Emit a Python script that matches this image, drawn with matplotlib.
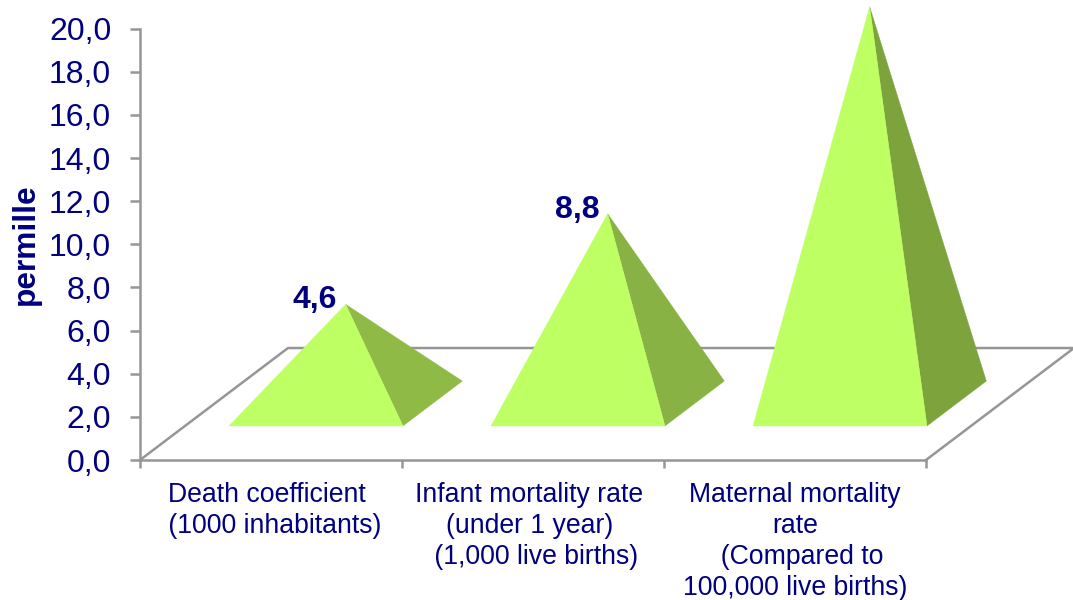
import matplotlib
matplotlib.use("Agg")
import matplotlib.pyplot as plt
from matplotlib.patches import Polygon

plt.rcParams['font.family'] = ['Liberation Sans', 'DejaVu Sans']

categories = ["Death coefficient \n (1000 inhabitants)",
              "Infant mortality rate \n(under 1 year) \n (1,000 live births)",
              "Maternal mortality\nrate\n  (Compared to\n100,000 live births)"]
values = [4.6, 8.8, 18.4]
value_labels = ["4,6", "8,8", None]
y_ticks = [0, 2, 4, 6, 8, 10, 12, 14, 16, 18, 20]
y_tick_labels = ["0,0", "2,0", "4,0", "6,0", "8,0", "10,0", "12,0", "14,0", "16,0", "18,0", "20,0"]
side_colors = ["#90BA46", "#88B243", "#7DA33C"]
front_color = "#BEFF64"
navy = "#000080"
gray = "#969696"

W, H = 1073, 600
fig = plt.figure(figsize=(W / 100, H / 100), dpi=100)
ax = fig.add_axes([140 / W, 1 - 460 / H, 786 / W, (460 - 28.7) / H])
ax.set_xlim(-0.5, 2.5)
ax.set_ylim(0, 20)

# oblique depth of the floor, in data units
depth_x = 148 / 262
depth_y = 112 / 21.57
half_w = 0.332
d_front, d_back = 0.304, 0.705
d_mid = (d_front + d_back) / 2

floor_x = [-0.5, -0.5 + depth_x, 2.5 + depth_x, 2.5]
floor_y = [0, depth_y, depth_y, 0]
ax.plot(floor_x, floor_y, color=gray, lw=1.8, clip_on=False, zorder=1)

for i, (v, c, lab) in enumerate(zip(values, side_colors, value_labels)):
    fl = (i - half_w + d_front * depth_x, d_front * depth_y)
    fr = (i + half_w + d_front * depth_x, d_front * depth_y)
    br = (i + half_w + d_back * depth_x, d_back * depth_y)
    apex = (i + d_mid * depth_x, d_mid * depth_y + v)
    ax.add_patch(Polygon([fr, br, apex], closed=True, fc=c, ec=c, lw=0.3, clip_on=False, zorder=2))
    ax.add_patch(Polygon([fl, fr, apex], closed=True, fc=front_color, ec=front_color, lw=0.3, clip_on=False, zorder=3))
    if lab:
        ax.annotate(lab, xy=apex, xytext=(-6, -3), textcoords="offset points",
                    ha="right", va="baseline", fontsize=23, fontweight="bold", color=navy, zorder=4)

for s in ("top", "right"):
    ax.spines[s].set_visible(False)
for s in ("left", "bottom"):
    ax.spines[s].set_color(gray)
    ax.spines[s].set_linewidth(1.8)
ax.patch.set_alpha(0)

ax.set_yticks(y_ticks, y_tick_labels, fontsize=23, color=navy)
ax.tick_params(axis="y", length=7.2, width=1.8, color=gray, pad=13.5)
ax.set_xticks(range(len(categories)), categories, fontsize=19.2, color=navy, linespacing=1.26)
ax.tick_params(axis="x", which="major", length=0, pad=15.5)
ax.set_xticks([-0.5, 0.5, 1.5, 2.5], minor=True)
ax.tick_params(axis="x", which="minor", length=6, width=1.8, color=gray)

fig.text(26 / W, 1 - 244 / H, "permille", rotation=90, ha="center", va="center",
         fontsize=22.8, fontweight="bold", color=navy)

fig.savefig("out.png", dpi=100)
